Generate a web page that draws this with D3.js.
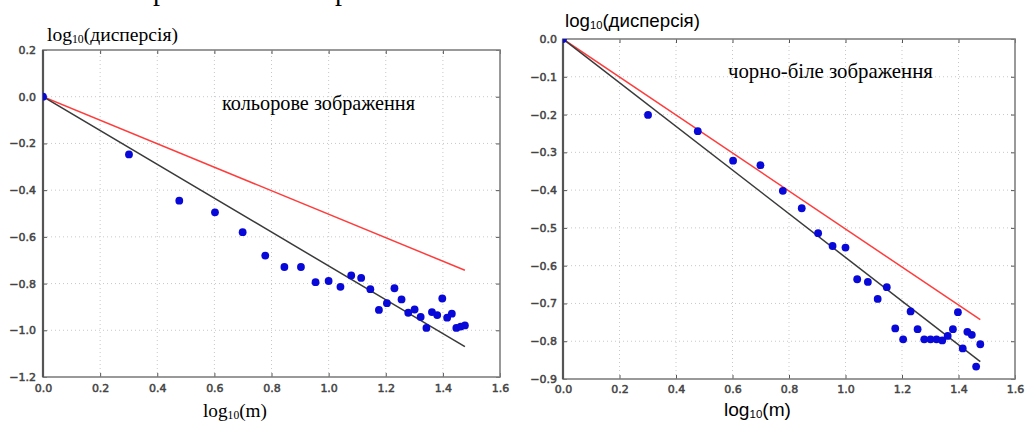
<!DOCTYPE html>
<html>
<head>
<meta charset="utf-8">
<script src="https://cdn.jsdelivr.net/npm/d3@7"></script>
<style>
  html, body { margin: 0; padding: 0; background: #fff; }
  svg { display: block; }
</style>
</head>
<body>
<svg id="chart" width="1025" height="423"></svg>
<script>
// Window sizes m (x axis is log10 of m)
const windowSizes = [1, 2, 3, 4, 5, 6, 7, 8, 9, 10, 11, 12, 13, 14, 15,
                     16, 17, 18, 19, 20, 21, 22, 23, 24, 25, 26, 27, 28, 29, 30];

// log10 of the variance, colour image
const colourVariance = [0, -0.247, -0.445, -0.495, -0.580, -0.680, -0.729, -0.729, -0.794, -0.789,
                        -0.814, -0.765, -0.776, -0.824, -0.913, -0.884, -0.820, -0.868, -0.925, -0.911,
                        -0.943, -0.990, -0.922, -0.935, -0.864, -0.946, -0.929, -0.990, -0.984, -0.979];

// log10 of the variance, black-and-white image
const greyVariance = [0, -0.201, -0.244, -0.322, -0.334, -0.402, -0.448, -0.514, -0.548, -0.552,
                      -0.636, -0.643, -0.688, -0.657, -0.766, -0.795, -0.721, -0.768, -0.795, -0.795,
                      -0.795, -0.798, -0.786, -0.768, -0.723, -0.819, -0.775, -0.783, -0.867, -0.808];

// Fitted line and reference line (slope -1/2), as [m, log10 variance] end points
const colourFit = [[1, 0], [30, -1.07]];
const colourRef = [[1, 0], [30, -0.743]];
const greyFit   = [[1, 0], [30, -0.854]];
const greyRef   = [[1, 0], [30, -0.743]];

// Tick values
const xTickValues      = [0, 0.2, 0.4, 0.6, 0.8, 1.0, 1.2, 1.4, 1.6];
const colourYTickValues = [0.2, 0, -0.2, -0.4, -0.6, -0.8, -1.0, -1.2];
const greyYTickValues   = [0, -0.1, -0.2, -0.3, -0.4, -0.5, -0.6, -0.7, -0.8, -0.9];

// Texts
const yTitle = "(дисперсія)";
const xTitle = "(m)";
const colourNote = "кольорове зображення";
const greyNote = "чорно-біле зображення";

const svg = d3.select("#chart");

// Sets the font size so the text spans the given width
function fitWidth(sel, width) {
  const node = sel.node();
  const fs = parseFloat(sel.style("font-size"));
  const w = node.getComputedTextLength();
  sel.style("font-size", (fs * width / w).toFixed(2) + "px");
}

// "log" + small "10" + rest
function logLabel(g, x, y, rest, family, width) {
  const t = g.append("text")
    .attr("x", x).attr("y", y)
    .style("font-family", family)
    .style("font-size", "20px")
    .attr("fill", "#000");
  t.append("tspan").text("log");
  t.append("tspan").text("10").style("font-size", "0.6em").attr("dy", 1.5);
  t.append("tspan").text(rest).attr("dy", -1.5);
  fitWidth(t, width);
  return t;
}

function panel(opts) {
  const g = svg.append("g");
  const x = d3.scaleLinear().domain([0, 1.6]).range(opts.xRange);
  const y = d3.scaleLinear().domain(opts.yDomain).range(opts.yRange);
  const [x0, x1] = opts.xRange;
  const [y0, y1] = opts.yRange; // y0 bottom, y1 top

  const clipId = "clip-" + opts.id;
  svg.append("clipPath").attr("id", clipId)
    .append("rect").attr("x", x0).attr("y", y1).attr("width", x1 - x0).attr("height", y0 - y1);

  // dotted grid
  const grid = g.append("g").attr("stroke", "#c8c8c8").attr("stroke-width", 1)
    .attr("stroke-dasharray", "1,3");
  grid.selectAll(".gx").data(xTickValues.slice(1, -1)).join("line")
    .attr("x1", d => x(d)).attr("x2", d => x(d)).attr("y1", y0).attr("y2", y1);
  grid.selectAll(".gy").data(opts.yTicks.slice(1, -1)).join("line")
    .attr("x1", x0).attr("x2", x1).attr("y1", d => y(d)).attr("y2", d => y(d));

  // axes with inward ticks on all sides
  const fmt = d3.format(".1f");
  const tickStyle = a => a.call(s => s.select(".domain").remove())
    .call(s => s.selectAll(".tick line").attr("stroke", "#555").attr("stroke-width", 1))
    .call(s => s.selectAll(".tick text")
      .attr("fill", "#444")
      .style("font-family", "DejaVu Sans")
      .style("font-size", "11px")
      .attr("stroke", "#444").attr("stroke-width", 0.5));

  g.append("g").attr("transform", `translate(0,${y0})`)
    .call(d3.axisBottom(x).tickValues(xTickValues).tickFormat(fmt).tickSizeInner(-4).tickPadding(opts.xPad))
    .call(tickStyle);
  g.append("g").attr("transform", `translate(0,${y1})`)
    .call(d3.axisTop(x).tickValues(xTickValues).tickFormat("").tickSizeInner(-4))
    .call(tickStyle);
  g.append("g").attr("transform", `translate(${x0},0)`)
    .call(d3.axisLeft(y).tickValues(opts.yTicks).tickFormat(fmt).tickSizeInner(-4).tickPadding(opts.yPad))
    .call(tickStyle);
  g.append("g").attr("transform", `translate(${x1},0)`)
    .call(d3.axisRight(y).tickValues(opts.yTicks).tickFormat("").tickSizeInner(-4))
    .call(tickStyle);

  // spines
  g.append("rect").attr("x", x0).attr("y", y1).attr("width", x1 - x0).attr("height", y0 - y1)
    .attr("fill", "none").attr("stroke", "#808080").attr("stroke-width", 1.6);
  g.append("line").attr("x1", x0).attr("x2", x0).attr("y1", y0).attr("y2", y1)
    .attr("stroke", "#555").attr("stroke-width", 2.2);

  // lines and points
  const line = d3.line().x(d => x(Math.log10(d[0]))).y(d => y(d[1]));
  const plot = g.append("g").attr("clip-path", `url(#${clipId})`);
  plot.append("path").datum(opts.ref).attr("d", line)
    .attr("fill", "none").attr("stroke", "#ff3c3c").attr("stroke-width", 1.5);
  plot.append("path").datum(opts.fit).attr("d", line)
    .attr("fill", "none").attr("stroke", "#3a3a3a").attr("stroke-width", 1.5);
  plot.selectAll("circle").data(opts.values).join("circle")
    .attr("cx", (d, i) => x(Math.log10(windowSizes[i])))
    .attr("cy", d => y(d))
    .attr("r", 3.9)
    .attr("fill", "#0808d8");

  return g;
}

const left = panel({
  id: "colour", xRange: [43, 500], yDomain: [-1.2, 0.2], yRange: [377, 50],
  yTicks: colourYTickValues, yPad: 7, xPad: 7,
  values: colourVariance, fit: colourFit, ref: colourRef
});
const right = panel({
  id: "grey", xRange: [563, 1015], yDomain: [-0.9, 0], yRange: [379, 39],
  yTicks: greyYTickValues, yPad: 6, xPad: 6,
  values: greyVariance, fit: greyFit, ref: greyRef
});

const serif = "Liberation Serif, Times New Roman, serif";
const sans = "Liberation Sans, Arial, sans-serif";

// axis titles
logLabel(left, 47, 41, yTitle, serif, 131);
logLabel(right, 565, 27, yTitle, sans, 135);
logLabel(left, 203, 417, xTitle, serif, 64);
logLabel(right, 724, 416, xTitle, sans, 67);

// panel notes
const n1 = left.append("text").attr("x", 222).attr("y", 110)
  .style("font-family", serif).style("font-size", "19px").text(colourNote);
fitWidth(n1, 193);
const n2 = right.append("text").attr("x", 728).attr("y", 78)
  .style("font-family", serif).style("font-size", "19px").text(greyNote);
fitWidth(n2, 205);

// caption line above the panels, running off the top edge
svg.append("g").selectAll("text").data([153, 335]).join("text")
  .attr("x", d => d).attr("y", 0)
  .style("font-family", serif).style("font-size", "28px")
  .text("р");
</script>
</body>
</html>
